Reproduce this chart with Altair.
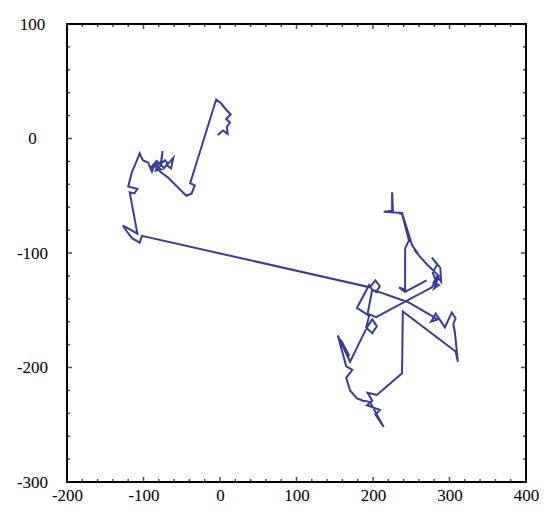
import altair as alt
import pandas as pd

# trajectory (in path order)
xs = [-3, 4, 10, 9, 13, 8, 14, 7, 1, -5,
      -39, -33, -37, -44, -50, -68, -78, -84, -91, -82, -86, -80, -84, -78, -75, -77, -72, -68, -61, -64,
      -70, -73, -80, -84, -77, -86, -89, -94,
      -101, -105, -111, -115, -120, -108, -112, -118, -108, -119, -127, -122, -115, -105, -102,
      196, 203, 209, 204, 199, 246, 277, 284, 276, 282, 294, 303, 308, 305, 307, 311, 308,
      239, 238, 205, 193, 199, 192, 209, 203, 214, 204, 196, 187, 179, 170, 165, 173, 165,
      154, 170, 158, 169, 155, 167, 157, 166, 161, 170, 192, 199, 205, 199, 191, 195, 179, 195, 199, 193, 204,
      277, 282, 278, 284, 277, 288, 289, 284, 279, 286, 280, 286, 272, 261, 254, 259, 251, 238, 214, 226, 225, 225,
      238, 247, 242, 242, 234, 242, 270]
ys = [3, 7, 4, 10, 14, 17, 21, 26, 31, 34,
      -39, -41, -48, -50, -46, -34, -29, -23, -26, -19, -25, -21, -28, -24, -11, -22, -19, -22, -17, -26,
      -23, -26, -21, -28, -27, -24, -29, -21,
      -19, -13, -23, -29, -42, -44, -48, -47, -83, -79, -76, -81, -87, -91, -85,
      -130, -124, -129, -134, -132, -143, -155, -158, -160, -153, -165, -152, -157, -162, -169, -195, -186,
      -151, -205, -224, -222, -229, -233, -237, -241, -252, -240, -230, -229, -227, -220, -209, -202, -199,
      -172, -195, -176, -190, -174, -188, -177, -186, -180, -195, -165, -158, -164, -170, -165, -155, -148, -128, -132, -153, -156,
      -130, -124, -117, -110, -104, -113, -125, -120, -126, -128, -131, -120, -111, -103, -97, -101, -93, -65, -64, -63, -47, -64,
      -66, -89, -96, -132, -130, -134, -124]

x_labels = [-200, -100, 0, 100, 200, 300, 400]
y_labels = [-300, -200, -100, 0, 100]
x_minor = [v for v in range(-180, 400, 20) if v % 100 != 0]
x_major = [-100, 0, 100, 200, 300]
y_minor = [v for v in range(-280, 100, 20) if v % 100 != 0]
y_major = [-200, -100, 0]

df = pd.DataFrame({"i": list(range(len(xs))), "x": xs, "y": ys})

xscale = alt.Scale(domain=[-200, 400], nice=False, zero=False)
yscale = alt.Scale(domain=[-300, 100], nice=False, zero=False)
FONT = "Liberation Serif, Times New Roman, serif"

xaxis = alt.Axis(values=x_labels, title=None, grid=False, domain=False,
                 ticks=False, tickSize=0, labelFont=FONT, labelFontSize=17,
                 labelColor="black", labelPadding=5, labelFlush=False,
                 labelExpr="datum.value + ''")
yaxis = alt.Axis(values=y_labels, title=None, grid=False, domain=False,
                 ticks=False, tickSize=0, labelFont=FONT, labelFontSize=17,
                 labelColor="black", labelPadding=35, labelAlign="center",
                 labelFlush=False, labelExpr="datum.value + ''")

line = alt.Chart(df).mark_line(color="#383c9c", strokeWidth=2).encode(
    x=alt.X("x:Q", scale=xscale, axis=xaxis),
    y=alt.Y("y:Q", scale=yscale, axis=yaxis),
    order="i:Q",
)

layers = [line]
for vals, L in [(x_minor, 3), (x_major, 5)]:
    d = pd.DataFrame({"v": vals})
    for edge, off in [(100, L / 2), (-300, -L / 2)]:
        layers.append(
            alt.Chart(d).mark_tick(orient="vertical", size=L, thickness=1.5,
                                   color="black", yOffset=off).encode(
                x=alt.X("v:Q", scale=xscale, axis=xaxis),
                y=alt.YDatum(edge, scale=yscale, axis=yaxis),
            ))
for vals, L in [(y_minor, 3), (y_major, 5)]:
    d = pd.DataFrame({"v": vals})
    for edge, off in [(-200, L / 2), (400, -L / 2)]:
        layers.append(
            alt.Chart(d).mark_tick(orient="horizontal", size=L, thickness=1.5,
                                   color="black", xOffset=off).encode(
                y=alt.Y("v:Q", scale=yscale, axis=yaxis),
                x=alt.XDatum(edge, scale=xscale, axis=xaxis),
            ))

chart = alt.layer(*layers).properties(
    width=459, height=458,
    autosize=alt.AutoSizeParams(type="none"),
    padding={"left": 59, "top": 16, "right": 14, "bottom": 25},
    background="white",
).configure_view(stroke="black", strokeWidth=2)

chart.save("out.html", embed_options={"renderer": "svg", "actions": False})
